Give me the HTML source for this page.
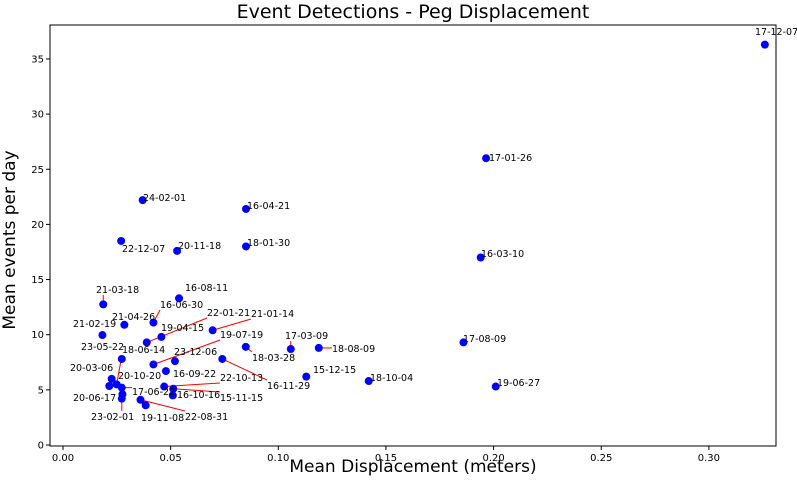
<!DOCTYPE html>
<html><head><meta charset="utf-8"><style>
body{margin:0;background:#fff;}
svg text{font-family:"DejaVu Sans","Liberation Sans",sans-serif;}
</style></head><body>
<svg id="chart" width="797" height="477" xmlns="http://www.w3.org/2000/svg">
<text x="413" y="18" font-size="19" text-anchor="middle">Event Detections - Peg Displacement</text>
<text x="413" y="472" font-size="17" text-anchor="middle">Mean Displacement (meters)</text>
<text transform="translate(15,240) rotate(-90)" font-size="17" text-anchor="middle">Mean events per day</text>
<g id="axes"></g><g id="marks"></g>
<rect x="50" y="25" width="726" height="421" fill="none" stroke="#000" stroke-width="1"/>
</svg>
<script>
const labels=["17-12-07","17-01-26","24-02-01","16-04-21","22-12-07","20-11-18","18-01-30","16-03-10","17-08-09","19-06-27","18-10-04","21-03-18","16-08-11","16-06-30","21-04-26","21-02-19","22-01-21","21-01-14","19-04-15","19-07-19","23-12-06","16-11-29","18-03-28","17-03-09","18-08-09","15-12-15","23-05-22","18-06-14","20-03-06","20-10-20","17-06-22","20-06-17","23-02-01","16-09-22","22-10-13","16-10-16","15-11-15","19-11-08","22-08-31"];
const xValues=[0.326,0.1965,0.037,0.085,0.027,0.053,0.085,0.194,0.186,0.201,0.142,0.0187,0.0539,0.042,0.0285,0.0183,0.0389,0.0695,0.0457,0.042,0.052,0.074,0.0849,0.1058,0.1188,0.113,0.0273,0.0249,0.0226,0.0215,0.0273,0.0276,0.0273,0.0478,0.047,0.051,0.0512,0.0384,0.036];
const yValues=[36.3,26.0,22.2,21.4,18.5,17.6,18.0,17.0,9.3,5.3,5.8,12.75,13.3,11.1,10.9,9.97,9.3,10.4,9.8,7.3,7.6,7.8,8.9,8.7,8.8,6.2,7.8,5.5,6.0,5.35,5.2,4.6,4.2,6.7,5.3,4.5,5.1,3.6,4.1];
const xTicks=[0,0.05,0.10,0.15,0.20,0.25,0.30];
const xTickLabels=["0.00","0.05","0.10","0.15","0.20","0.25","0.30"];
const yTicks=[0,5,10,15,20,25,30,35];
// annotation text positions (layout, pixels)
const labelPos=[[755,35],[489,161],[143,201],[247,209],[122,252],[178,249],[247,246],[481,257],[463,342],[497,386],[370,381],[96,293],[185,291],[160,308],[112,320],[73,327],[207,316],[251,317],[161,331],[220,338],[174,355],[267,389],[252,361],[285,339],[332,352],[313,373],[81,350],[122,353],[70,371],[118,379],[132,395],[73,401],[91,420],[173,377],[220,381],[177,398],[220,401],[141,421],[185,420]];
const X=v=>63+v*2153, Y=v=>445-v*11.03;
const NS="http://www.w3.org/2000/svg";
function mk(t,a,p){const e=document.createElementNS(NS,t);for(const k in a)e.setAttribute(k,a[k]);p.appendChild(e);return e;}
const ax=document.getElementById('axes'), mg=document.getElementById('marks');
xTicks.forEach((v,i)=>{const l=mk('line',{x1:X(v),x2:X(v),y1:446,y2:450,stroke:'#000'},ax);


const t=mk('text',{x:X(v),y:461,'font-size':10,'text-anchor':'middle'},ax);t.textContent=xTickLabels[i];

});
yTicks.forEach(v=>{const l=mk('line',{x1:46,x2:50,y1:Y(v),y2:Y(v),stroke:'#000'},ax);


const t=mk('text',{x:44,y:Y(v)+3.5,'font-size':10,'text-anchor':'end'},ax);t.textContent=v;

});
const lineG=mk('g',{},mg),dotG=mk('g',{},mg),txtG=mk('g',{},mg);
labels.forEach((lab,i)=>{const px=X(xValues[i]),py=Y(yValues[i]);const [lx,ly]=labelPos[i];
const w=lab.length*5.6,top=ly-9,bot=ly+2;
const cx=Math.max(lx,Math.min(lx+w,px)),cy=Math.max(top,Math.min(bot,py));
if(Math.hypot(cx-px,cy-py)>8){const l=mk('line',{x1:px,y1:py,x2:cx,y2:cy,stroke:'red','stroke-width':1},lineG);

}
const c=mk('circle',{cx:px,cy:py,r:4,fill:'#0000ff'},dotG);


const t=mk('text',{x:lx,y:ly,'font-size':9.5},txtG);t.textContent=lab;

});
</script>
</body></html>
